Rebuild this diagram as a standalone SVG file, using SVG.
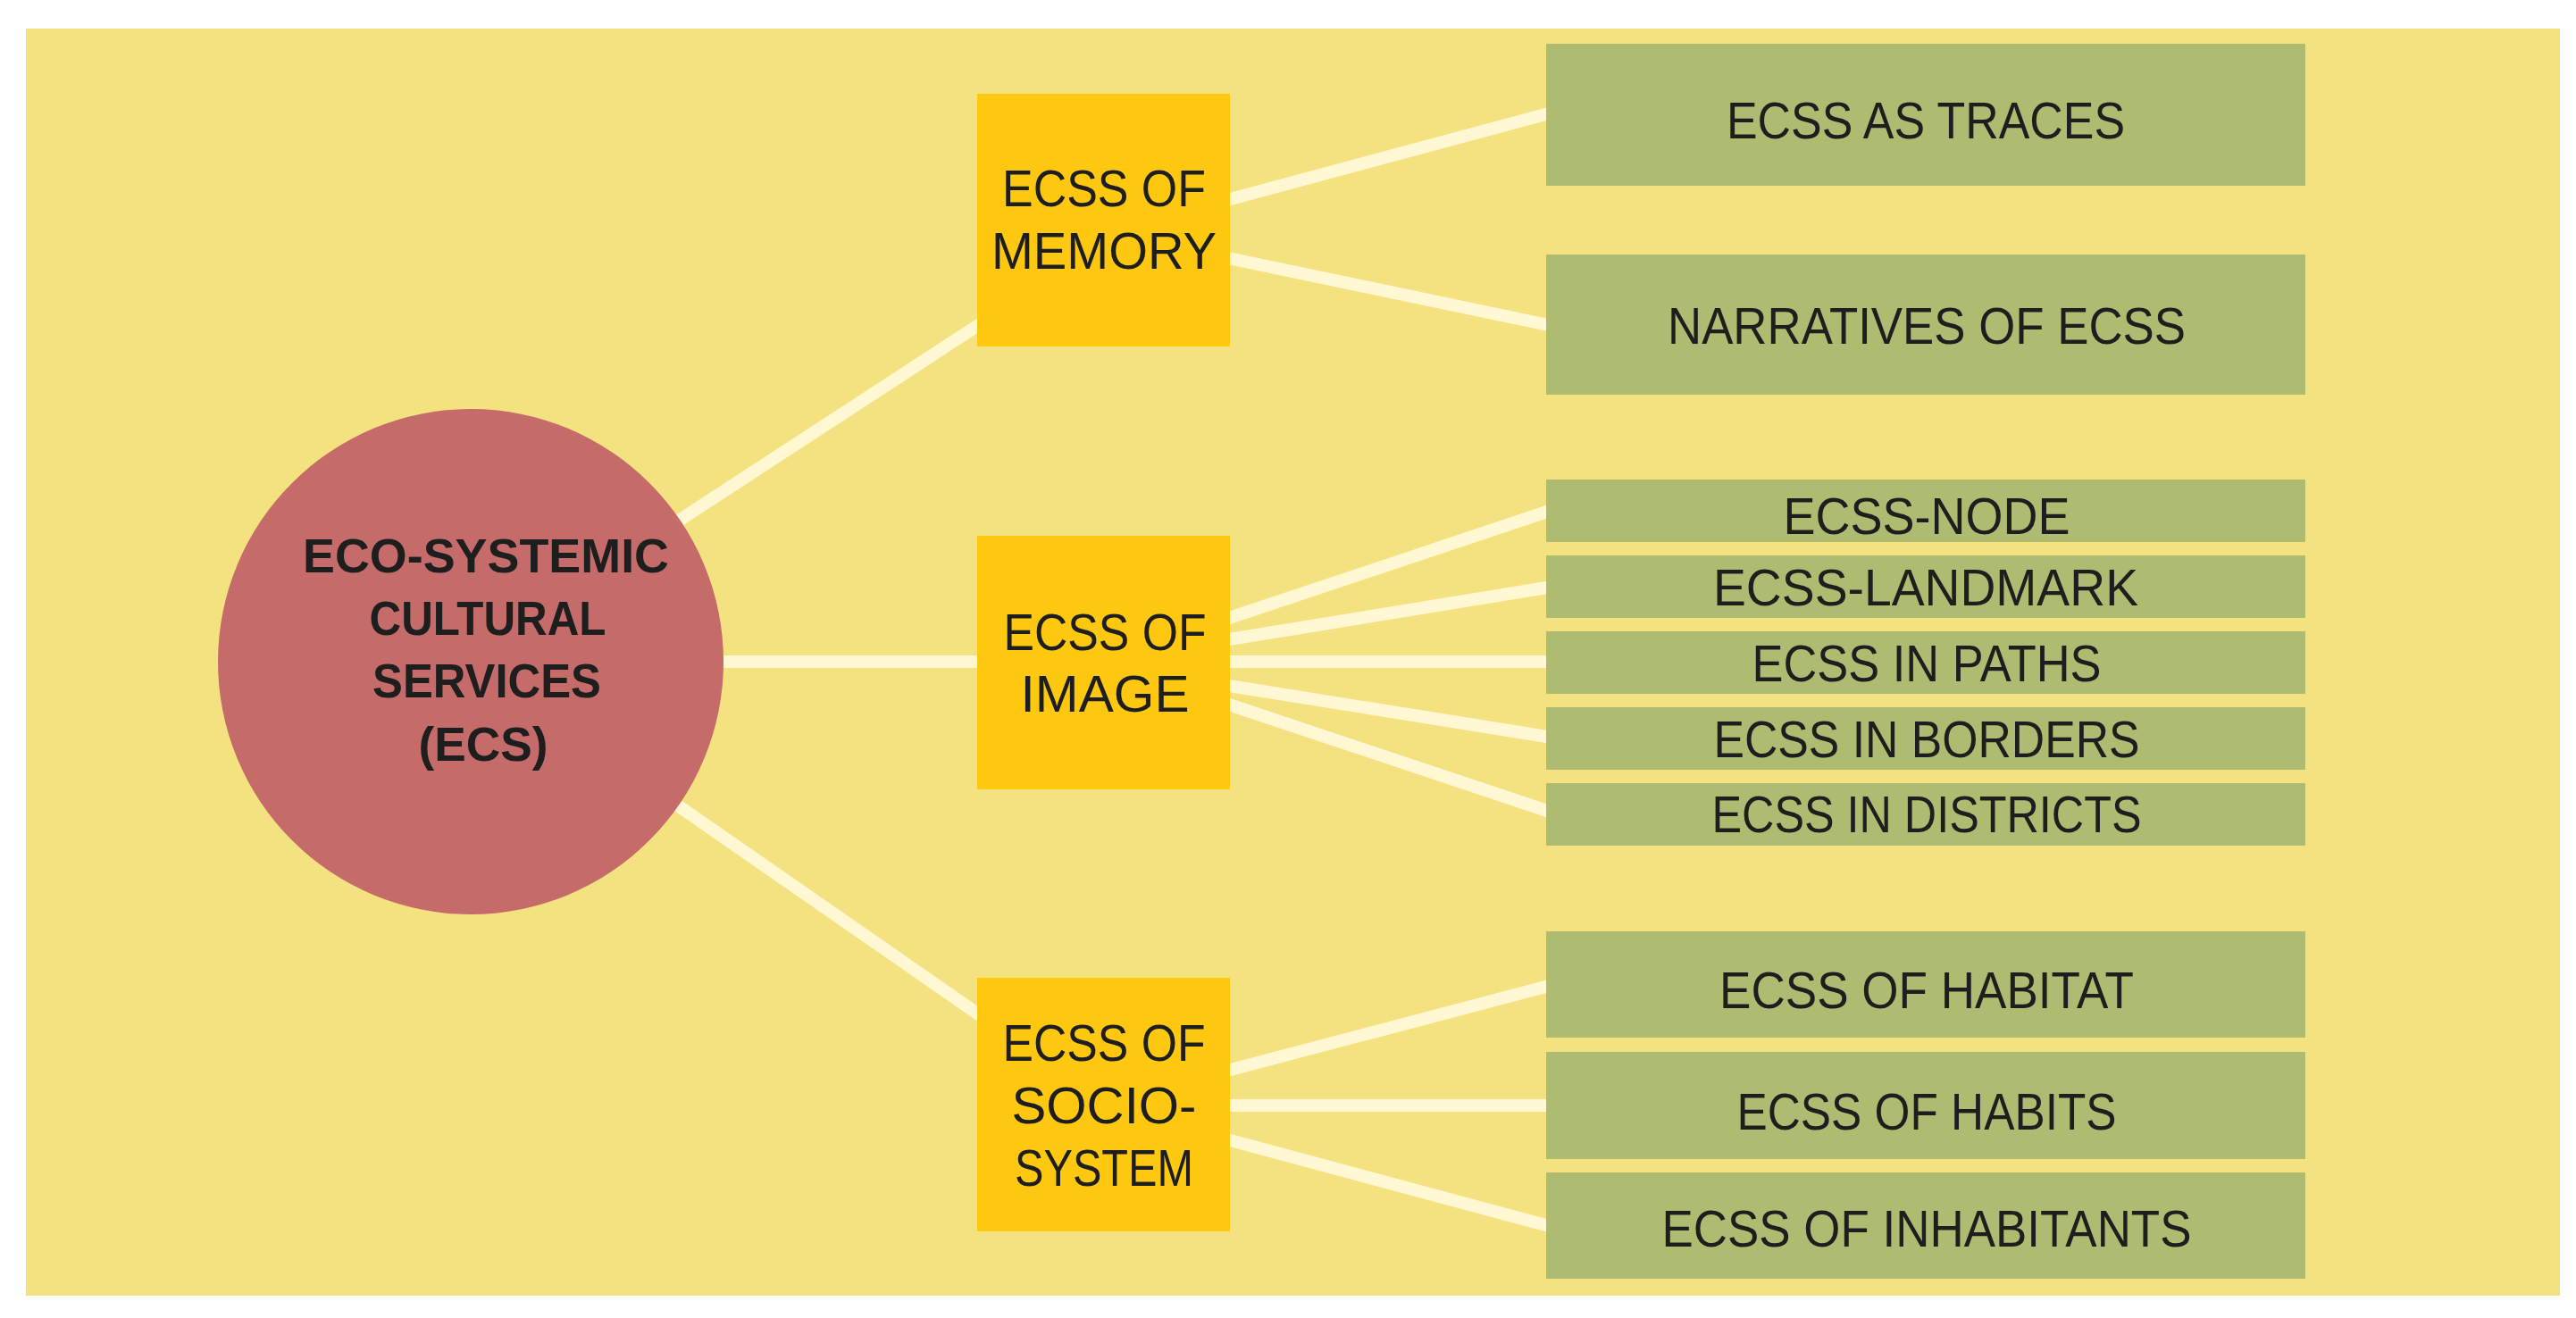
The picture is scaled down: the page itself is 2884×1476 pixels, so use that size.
<svg xmlns="http://www.w3.org/2000/svg" width="2884" height="1476" viewBox="0 0 2884 1476">
  <style>
    .bg { fill: #F4E280; }
    .conn { stroke: #FFF8D3; stroke-width: 14; fill: none; stroke-linecap: butt; }
    .hub { fill: #C56B6A; }
    .mid { fill: #FDC80F; }
    .leaf { fill: #AEBC72; }
    .hubtxt { font-family: "Liberation Sans", Arial, sans-serif; font-weight: bold; font-size: 54px; fill: #1E1E1E; text-anchor: middle; }
    .lbl { font-family: "Liberation Sans", Arial, sans-serif; font-size: 58px; fill: #1E1E1E; text-anchor: middle; }
  </style>
  <rect x="0" y="0" width="2884" height="1476" fill="#FFFFFF"/>
  <rect class="bg" x="29" y="32" width="2837" height="1419"/>

  <g id="connectors">
    <line class="conn" x1="527" y1="735" x2="1100" y2="361"/>
    <line class="conn" x1="527" y1="741" x2="1100" y2="741"/>
    <line class="conn" x1="527" y1="741" x2="1100" y2="1139"/>
    <line class="conn" x1="1370" y1="225" x2="1738" y2="126"/>
    <line class="conn" x1="1370" y1="288" x2="1738" y2="365"/>
    <line class="conn" x1="1370" y1="694" x2="1738" y2="571"/>
    <line class="conn" x1="1370" y1="717" x2="1738" y2="657"/>
    <line class="conn" x1="1370" y1="741" x2="1738" y2="741"/>
    <line class="conn" x1="1370" y1="767" x2="1738" y2="826"/>
    <line class="conn" x1="1370" y1="787" x2="1738" y2="910"/>
    <line class="conn" x1="1370" y1="1200" x2="1738" y2="1103"/>
    <line class="conn" x1="1370" y1="1238" x2="1738" y2="1238"/>
    <line class="conn" x1="1370" y1="1275" x2="1738" y2="1374"/>
  </g>

  <g id="ecs">
    <circle class="hub" cx="527" cy="741" r="283"/>
    <text class="hubtxt" x="544" y="641" textLength="410" lengthAdjust="spacingAndGlyphs">ECO-SYSTEMIC</text>
    <text class="hubtxt" x="546" y="711" textLength="265" lengthAdjust="spacingAndGlyphs">CULTURAL</text>
    <text class="hubtxt" x="545" y="781" textLength="256" lengthAdjust="spacingAndGlyphs">SERVICES</text>
    <text class="hubtxt" x="541" y="852" textLength="145" lengthAdjust="spacingAndGlyphs">(ECS)</text>
  </g>

  <g id="memory">
    <rect class="mid" x="1094" y="105" width="283" height="283"/>
    <text class="lbl" x="1236" y="231" textLength="228" lengthAdjust="spacingAndGlyphs">ECSS OF</text>
    <text class="lbl" x="1236" y="301" textLength="252" lengthAdjust="spacingAndGlyphs">MEMORY</text>
  </g>

  <g id="image">
    <rect class="mid" x="1094" y="600" width="283" height="284"/>
    <text class="lbl" x="1237" y="728" textLength="227" lengthAdjust="spacingAndGlyphs">ECSS OF</text>
    <text class="lbl" x="1237" y="797" textLength="189" lengthAdjust="spacingAndGlyphs">IMAGE</text>
  </g>

  <g id="socio">
    <rect class="mid" x="1094" y="1095" width="283" height="284"/>
    <text class="lbl" x="1236" y="1188" textLength="227" lengthAdjust="spacingAndGlyphs">ECSS OF</text>
    <text class="lbl" x="1236" y="1258" textLength="207" lengthAdjust="spacingAndGlyphs">SOCIO-</text>
    <text class="lbl" x="1236" y="1328" textLength="200" lengthAdjust="spacingAndGlyphs">SYSTEM</text>
  </g>

  <g id="traces">
    <rect class="leaf" x="1731" y="49" width="850" height="159"/>
    <text class="lbl" x="2156" y="155" textLength="446" lengthAdjust="spacingAndGlyphs">ECSS AS TRACES</text>
  </g>
  <g id="narratives">
    <rect class="leaf" x="1731" y="285" width="850" height="157"/>
    <text class="lbl" x="2157" y="385" textLength="580" lengthAdjust="spacingAndGlyphs">NARRATIVES OF ECSS</text>
  </g>

  <g id="node">
    <rect class="leaf" x="1731" y="537" width="850" height="70"/>
    <text class="lbl" x="2157" y="598" textLength="321" lengthAdjust="spacingAndGlyphs">ECSS-NODE</text>
  </g>
  <g id="landmark">
    <rect class="leaf" x="1731" y="622" width="850" height="70"/>
    <text class="lbl" x="2156" y="678" textLength="476" lengthAdjust="spacingAndGlyphs">ECSS-LANDMARK</text>
  </g>
  <g id="paths">
    <rect class="leaf" x="1731" y="707" width="850" height="70"/>
    <text class="lbl" x="2157" y="763" textLength="391" lengthAdjust="spacingAndGlyphs">ECSS IN PATHS</text>
  </g>
  <g id="borders">
    <rect class="leaf" x="1731" y="792" width="850" height="70"/>
    <text class="lbl" x="2157" y="848" textLength="477" lengthAdjust="spacingAndGlyphs">ECSS IN BORDERS</text>
  </g>
  <g id="districts">
    <rect class="leaf" x="1731" y="877" width="850" height="70"/>
    <text class="lbl" x="2157" y="932" textLength="481" lengthAdjust="spacingAndGlyphs">ECSS IN DISTRICTS</text>
  </g>

  <g id="habitat">
    <rect class="leaf" x="1731" y="1043" width="850" height="119"/>
    <text class="lbl" x="2157" y="1129" textLength="464" lengthAdjust="spacingAndGlyphs">ECSS OF HABITAT</text>
  </g>
  <g id="habits">
    <rect class="leaf" x="1731" y="1178" width="850" height="120"/>
    <text class="lbl" x="2157" y="1265" textLength="425" lengthAdjust="spacingAndGlyphs">ECSS OF HABITS</text>
  </g>
  <g id="inhabitants">
    <rect class="leaf" x="1731" y="1313" width="850" height="119"/>
    <text class="lbl" x="2157" y="1396" textLength="593" lengthAdjust="spacingAndGlyphs">ECSS OF INHABITANTS</text>
  </g>
</svg>
